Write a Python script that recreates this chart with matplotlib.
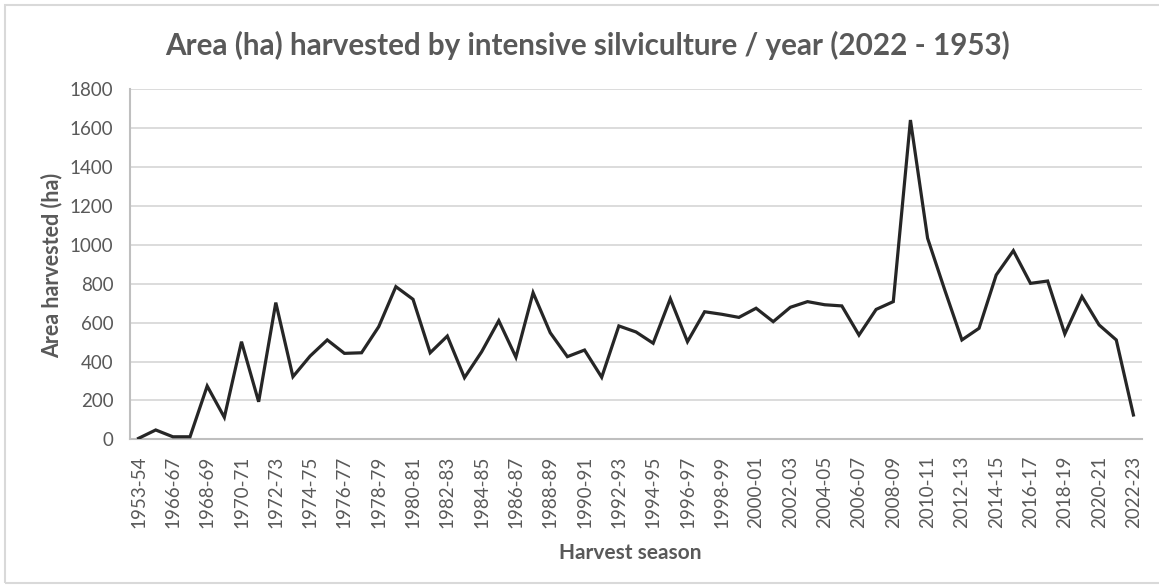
import matplotlib.pyplot as plt
from matplotlib.patches import Rectangle

# harvest seasons (only every second one gets a label on the axis)
seasons = ["1953-54", "1965-66"] + [f"{y}-{str(y + 1)[-2:]}" for y in range(1966, 2023)]

area_ha = [
    5, 48, 13, 13, 274, 113, 502, 193, 703, 322,
    428, 511, 442, 445, 579, 785, 720, 445, 531, 317,
    450, 610, 422, 754, 548, 425, 459, 319, 583, 552,
    494, 723, 502, 656, 643, 627, 674, 605, 679, 708,
    692, 686, 536, 668, 708, 1642, 1034, 768, 511, 571,
    845, 970, 802, 814, 542, 734, 588, 511, 125,
]

y_ticks = list(range(0, 2000, 200))

plt.rcParams['font.family'] = ['Lato', 'DejaVu Sans']
text_grey = '#595959'

W, H = 1159, 585
fig = plt.figure(figsize=(W / 100, H / 100), dpi=100)

# thin frame around the chart area
fig.patches.append(Rectangle((5 / W, 2 / H), 1.2, (H - 7) / H, transform=fig.transFigure,
                             fill=False, edgecolor='#d9d9d9', linewidth=1.5))

ax = fig.add_axes([130 / W, 1 - 439.3 / H, 1012 / W, 350 / H])
x = list(range(len(seasons)))
ax.plot(x, area_ha, color='#262626', linewidth=2.3, solid_joinstyle='miter', zorder=3)

ax.set_xlim(-0.5, len(seasons) - 0.5)
ax.set_ylim(0, 1800)
ax.set_yticks(y_ticks)
ax.set_yticklabels([str(v) for v in y_ticks], fontsize=13.5, color=text_grey)
ax.set_xticks(x[::2])
ax.set_xticklabels(seasons[::2], rotation=90, fontsize=13.5, color=text_grey)
ax.tick_params(axis='both', length=0)
ax.tick_params(axis='x', pad=12)
ax.tick_params(axis='y', pad=12)

ax.grid(axis='y', color='#d9d9d9', linewidth=1.3, zorder=0)
for side in ['top', 'right']:
    ax.spines[side].set_visible(False)
ax.spines['bottom'].set_color('#bfbfbf')
ax.spines['left'].set_color('#bfbfbf')
ax.spines['bottom'].set_linewidth(1.5)
ax.spines['left'].set_linewidth(1.5)
ax.set_axisbelow(True)

fig.text(588 / W, 1 - 45 / H, 'Area (ha) harvested by intensive silviculture / year (2022 - 1953)',
         ha='center', va='center', fontsize=21.3, fontweight='bold', color=text_grey)
fig.text(52 / W, 1 - 265 / H, 'Area harvested (ha)', rotation=90, ha='center', va='center',
         fontsize=15.5, fontweight='bold', color=text_grey)
fig.text(630 / W, 1 - 553 / H, 'Harvest season', ha='center', va='center',
         fontsize=15, fontweight='bold', color=text_grey)

fig.savefig('out.png', dpi=100)
